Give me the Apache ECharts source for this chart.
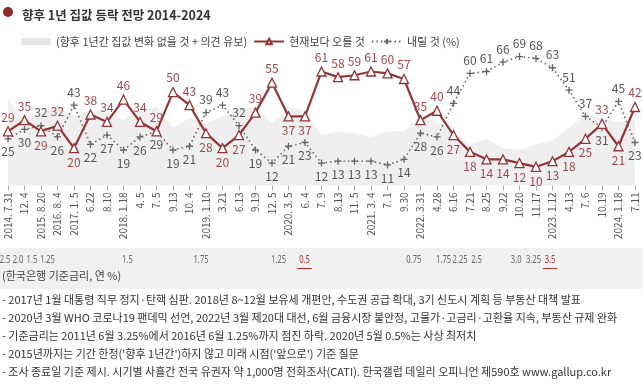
<!DOCTYPE html>
<html>
<head>
<meta charset="utf-8">
<script src="https://cdn.jsdelivr.net/npm/echarts@6/dist/echarts.min.js"></script>
<style>
html,body{margin:0;padding:0;background:#fff;}
#chart{width:643px;height:385px;}
</style>
</head>
<body>
<div id="chart"></div>
<script>
// ---- data ----
const categories = ['2014. 7.31','12. 4','2015. 8.20','2016. 8. 4','2017. 1. 5','6.22','8.10','2018. 1.18','4. 5','7. 5','9.13','10. 4','2019. 1.10','3.21','6.13','9.19','12. 5','2020. 3. 5','6. 4','7. 9','8.13','11. 5','2021. 3. 4','7. 1','9.30','2022. 3.31','4.28','6.16','7.21','8.25','9.22','10.20','11.17','2023. 1.12','4.13','7. 6','10.19','2024. 1.18','7.11'];
const riseValues = [29,35,29,32,20,38,34,46,34,29,50,43,28,20,27,39,55,37,37,61,58,59,61,60,57,35,40,27,18,14,14,12,10,13,18,25,33,21,42];
const fallValues = [25,30,32,26,43,22,27,19,26,29,19,21,39,43,32,19,12,21,23,12,13,13,13,11,14,28,26,44,60,61,66,69,68,63,51,37,31,45,23];
const noChangeValues = [46,35,39,42,37,40,39,35,40,42,31,36,33,37,41,42,33,42,40,27,29,28,26,29,29,37,34,29,22,25,20,19,22,24,31,38,36,34,35];
const rateLabels = ['2.5','2.0','1.5','1.25','1.5','1.75','1.25','0.5','0.75','1.75','2.25','2.5','3.0','3.25','3.5'];
const rateAt = [-0.18,0.61,1.45,2.39,7.24,11.7,16.4,17.97,24.6,26.4,27.4,28.4,30.8,31.85,32.85];
const rateRecord = [false,false,false,false,false,false,false,true,false,false,false,false,false,false,true];
const footnotes = [
  '- 2017년 1월 대통령 직무 정지·탄핵 심판. 2018년 8~12월 보유세 개편안, 수도권 공급 확대, 3기 신도시 계획 등 부동산 대책 발표',
  '- 2020년 3월 WHO 코로나19 팬데믹 선언, 2022년 3월 제20대 대선, 6월 금융시장 불안정, 고물가·고금리·고환율 지속, 부동산 규제 완화',
  '- 기준금리는 2011년 6월 3.25%에서 2016년 6월 1.25%까지 점진 하락. 2020년 5월 0.5%는 사상 최저치',
  '- 2015년까지는 기간 한정(\'향후 1년간\')하지 않고 미래 시점(\'앞으로\') 기준 질문',
  '- 조사 종료일 기준 제시. 시기별 사흘간 전국 유권자 약 1,000명 전화조사(CATI). 한국갤럽 데일리 오피니언 제590호 www.gallup.co.kr'
];

// ---- styles (label placement) ----
const riseLabelPos = ['top','top','bottom','top','bottom','top','top','top','top','top','top','top','bottom','bottom','bottom','top','top','bottom','bottom','top','top','top','top','top','top','top','top','bottom','bottom','bottom','bottom','bottom','bottom','bottom','bottom','bottom','top','bottom','top'];
const fallLabelPos = ['bottom','bottom','top','bottom','top','bottom','bottom','bottom','bottom','bottom','bottom','bottom','top','top','top','bottom','bottom','bottom','bottom','bottom','bottom','bottom','bottom','bottom','bottom','bottom','bottom','top','top','top','top','top','top','top','top','top','bottom','top','bottom'];

const FONT = '"Noto Sans CJK KR", "Noto Sans", sans-serif';
const RED = '#943535';
const GRAY = '#666';

const chart = echarts.init(document.getElementById('chart'), null, {renderer:'canvas'});

const riseData = riseValues.map((v,i)=>({value:v, label:{position:riseLabelPos[i]}}));
const fallData = fallValues.map((v,i)=>({value:v, label:{position:fallLabelPos[i]}}));

const pxPerIdx = 627/38;

const baseGraphic = [
  {type:'circle', shape:{cx:8, cy:12, r:5}, style:{fill:'#8e2b2b'}, z:10},
  {type:'rect', shape:{x:0, y:248, width:643, height:41}, style:{fill:'#f1f1f1'}, z:-10},
  {type:'text', left:2, top:270, style:{text:'(한국은행 기준금리, 연 %)', fill:'#444', font:'11px '+FONT}}
].concat(footnotes.map((t,i)=>({type:'text', left:2, top:294+i*18.2,
    style:{text:t, fill:'#333', font:'11px '+FONT}})));

const option = {
  animation:false,
  textStyle:{fontFamily:FONT},
  title:{text:'향후 1년 집값 등락 전망 2014-2024', left:17, top:4,
    textStyle:{fontSize:12.5, fontWeight:'bold', color:'#333', fontFamily:FONT}},
  legend:{left:16, top:31, itemWidth:30, itemHeight:7, itemGap:6,
    textStyle:{fontSize:11, color:'#444', fontFamily:FONT},
    data:[{name:'(향후 1년간 집값 변화 없을 것 + 의견 유보)', icon:'rect'},'현재보다 오를 것','내릴 것 (%)']},
  grid:[
    {left:8, right:8, top:36, bottom:199.5},
    {left:0, right:0, top:243, height:26}
  ],
  xAxis:[
    {type:'category', data:categories, boundaryGap:false, gridIndex:0,
      axisLine:{show:false},
      axisTick:{show:true, length:5, interval:0, lineStyle:{color:'#aaa'}},
      axisLabel:{rotate:90, interval:0, fontSize:10, color:'#555', margin:7, fontFamily:FONT},
      splitLine:{show:false}},
    {type:'value', gridIndex:1, min:-8/pxPerIdx, max:38+8/pxPerIdx, show:false}
  ],
  yAxis:[
    {type:'value', min:0, max:80, show:false, gridIndex:0},
    {type:'value', min:0, max:1, show:false, gridIndex:1}
  ],
  series:[
    {name:'(향후 1년간 집값 변화 없을 것 + 의견 유보)', type:'line', data:noChangeValues,
      symbol:'none', lineStyle:{width:0, color:'#ececec'}, itemStyle:{color:'#e6e6e6'},
      areaStyle:{color:'#efefef', opacity:1}, z:1, silent:true},
    {name:'내릴 것 (%)', type:'line', data:fallData, z:3,
      symbol:'path://M5,0L5,10M0,5L10,5', symbolSize:7, showAllSymbol:true,
      lineStyle:{color:GRAY, width:1.6, type:[1.5,3]},
      itemStyle:{color:GRAY, borderColor:GRAY, borderWidth:1.3},
      label:{show:true, fontSize:12, color:'#555', distance:3, fontFamily:FONT}},
    {name:'현재보다 오를 것', type:'line', data:riseData, z:4,
      symbol:'triangle', symbolSize:9, showAllSymbol:true,
      lineStyle:{color:RED, width:2.2},
      itemStyle:{color:'#fff', borderColor:RED, borderWidth:1.3},
      label:{show:true, fontSize:12, color:'#a04848', distance:3, fontFamily:FONT}}
  ],
  graphic: baseGraphic
};
chart.setOption(option);

// interest-rate row: positioned through the hidden rate axis (grid 1)
const rateGraphic = [];
rateLabels.forEach((t,i)=>{
  const pt = chart.convertToPixel({xAxisIndex:1, yAxisIndex:1}, [rateAt[i], 0]);
  const col = rateRecord[i] ? '#b03030' : '#666';
  rateGraphic.push({type:'text', x:pt[0], y:260, scaleX:0.66, scaleY:1,
    style:{text:t, fill:col, font:'11.5px "Noto Sans", sans-serif', textAlign:'center', textVerticalAlign:'middle'}});
  if (rateRecord[i]) {
    const w = (t.length*6.3)*0.66 + 2;
    rateGraphic.push({type:'line', shape:{x1:pt[0]-w/2, y1:268.5, x2:pt[0]+w/2, y2:268.5},
      style:{stroke:col, lineWidth:1}});
  }
});
chart.setOption({graphic: baseGraphic.concat(rateGraphic)}, {replaceMerge:['graphic']});
</script>
</body>
</html>
